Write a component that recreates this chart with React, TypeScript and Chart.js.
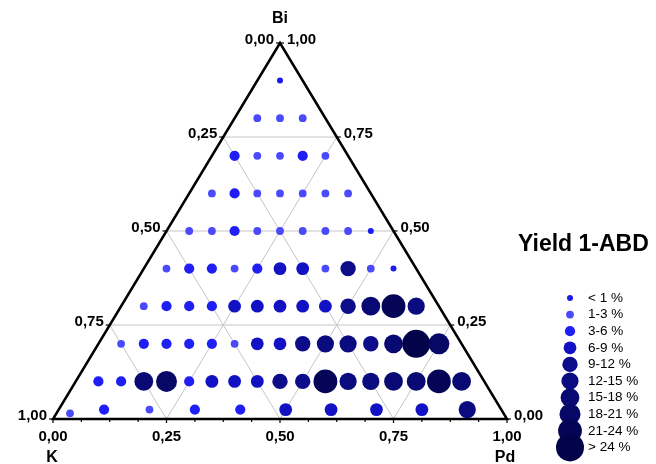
import React, { useEffect, useRef } from "react";
import { Chart, registerables } from "chart.js";

Chart.register(...registerables);

// Yield classes (legend)
const CLASS_LABELS = ["< 1 %", "1-3 %", "3-6 %", "6-9 %", "9-12 %", "12-15 %", "15-18 %", "18-21 %", "21-24 %", "> 24 %"];
const CLASS_COLORS = ["#1c1cf2", "#4a4afa", "#1e1ef5", "#1212c4", "#0d0d8c", "#0b0b80", "#090974", "#070766", "#050558", "#03034a"];
const CLASS_RADII = [3, 3.9, 5.1, 6.4, 7.7, 8.6, 9.4, 10.5, 11.9, 14];

// Composition grid rows (Bi fraction) and Pd steps within each row
const BI_LEVELS = [0.9, 0.8, 0.7, 0.6, 0.5, 0.4, 0.3, 0.2, 0.1];
const PD_STEPS = [0.05, 0.1, 0.15, 0.2, 0.25, 0.3, 0.35, 0.4, 0.45, 0.5, 0.55, 0.6, 0.65, 0.7, 0.75, 0.8, 0.85];
const ROW_CLASSES = [
  [0],
  [1, 1, 1],
  [2, 1, 1, 2, 1],
  [1, 2, 1, 1, 1, 1, 1],
  [1, 1, 2, 1, 1, 1, 1, 1, 0],
  [1, 2, 2, 1, 2, 3, 3, 1, 4, 1, 0],
  [1, 2, 2, 2, 3, 3, 3, 3, 3, 4, 6, 8, 5],
  [1, 2, 2, 2, 2, 1, 3, 3, 4, 5, 5, 4, 6, 9, 7],
  [2, 2, 6, 7, 2, 3, 3, 3, 4, 4, 8, 5, 5, 6, 6, 8, 6],
];

// Points close to the Bi = 0 edge
const EDGE_PD = [0.03, 0.1, 0.2, 0.3, 0.4, 0.5, 0.6, 0.7, 0.8, 0.9];
const EDGE_BI = [0.015, 0.025, 0.025, 0.025, 0.025, 0.025, 0.025, 0.025, 0.025, 0.025];
const EDGE_CLASSES = [1, 2, 1, 2, 2, 3, 3, 3, 3, 5];

// Axis ticks
const TICK_VALUES = [0, 0.25, 0.5, 0.75, 1];
const TICK_TEXT = ["0,00", "0,25", "0,50", "0,75", "1,00"];
const GRID_VALUES = [0.25, 0.5, 0.75];

const TITLE = "Yield 1-ABD";

// layout (pixel frame of the triangle inside the 656x464 canvas)
const W = 656;
const H = 464;
const TRI_LEFT = 53;
const TRI_WIDTH = 454;
const TRI_BASE = 419;
const TRI_HEIGHT = 376;

const FONT = "'Liberation Sans', Arial, Helvetica, sans-serif";

export default function App() {
  const ref = useRef<HTMLCanvasElement | null>(null);

  useEffect(() => {
    const canvas = ref.current;
    if (!canvas) return;

    const points: any[] = [];
    const radii: number[] = [];
    const colors: string[] = [];
    BI_LEVELS.forEach((bi, r) => {
      ROW_CLASSES[r].forEach((cls, j) => {
        const pd = PD_STEPS[j];
        points.push({ x: pd + bi / 2, y: bi });
        radii.push(CLASS_RADII[cls]);
        colors.push(CLASS_COLORS[cls]);
      });
    });
    EDGE_PD.forEach((pd, j) => {
      const bi = EDGE_BI[j];
      const cls = EDGE_CLASSES[j];
      points.push({ x: pd + bi / 2, y: bi });
      radii.push(CLASS_RADII[cls]);
      colors.push(CLASS_COLORS[cls]);
    });

    const ternaryPlugin = {
      id: "ternary",
      beforeDatasetsDraw(chart: any) {
        const { ctx } = chart;
        const xs = chart.scales.x;
        const ys = chart.scales.y;
        const P = (pd: number, bi: number) => [xs.getPixelForValue(pd + bi / 2), ys.getPixelForValue(bi)];
        ctx.save();
        // grid
        ctx.strokeStyle = "#c4c4c4";
        ctx.lineWidth = 1;
        const seg = (a: number[], b: number[]) => {
          ctx.beginPath();
          ctx.moveTo(a[0], a[1]);
          ctx.lineTo(b[0], b[1]);
          ctx.stroke();
        };
        GRID_VALUES.forEach((v) => {
          seg(P(0, v), P(1 - v, v));
          seg(P(v, 0), P(v, 1 - v));
          seg(P(1 - v, 0), P(0, 1 - v));
        });
        // ticks on bottom
        ctx.strokeStyle = "#000";
        ctx.lineWidth = 1.2;
        for (let i = 0; i <= 16; i++) {
          const p = P(i / 16, 0);
          seg([p[0], p[1]], [p[0], p[1] + (i % 4 === 0 ? 4 : 3)]);
        }
        TICK_VALUES.forEach((v) => {
          const l = P(0, v);
          seg([l[0], l[1]], [l[0] - 4, l[1]]);
          const r = P(1 - v, v);
          seg([r[0], r[1]], [r[0] + 4, r[1]]);
        });
        // triangle
        ctx.lineWidth = 2.5;
        ctx.lineJoin = "miter";
        ctx.beginPath();
        const a = P(0, 0), b = P(1, 0), c = P(0, 1);
        ctx.moveTo(a[0], a[1]);
        ctx.lineTo(b[0], b[1]);
        ctx.lineTo(c[0], c[1]);
        ctx.closePath();
        ctx.stroke();
        ctx.restore();
      },
      afterDraw(chart: any) {
        const { ctx } = chart;
        const xs = chart.scales.x;
        const ys = chart.scales.y;
        const P = (pd: number, bi: number) => [xs.getPixelForValue(pd + bi / 2), ys.getPixelForValue(bi)];
        ctx.save();
        ctx.fillStyle = "#000";
        ctx.textBaseline = "middle";
        ctx.font = `bold 15px ${FONT}`;
        TICK_VALUES.forEach((v, i) => {
          // left edge: K fraction
          const l = P(0, 1 - v);
          ctx.textAlign = "right";
          ctx.fillText(TICK_TEXT[i], l[0] - 6, l[1] - 3);
          // right edge: Bi fraction
          const r = P(1 - v, v);
          ctx.textAlign = "left";
          ctx.fillText(TICK_TEXT[i], r[0] + 7, r[1] - 3);
          // bottom: Pd fraction
          const bt = P(v, 0);
          ctx.textAlign = "center";
          ctx.fillText(TICK_TEXT[i], bt[0], bt[1] + 18);
        });
        ctx.font = `bold 16px ${FONT}`;
        ctx.textAlign = "center";
        const apex = P(0, 1);
        ctx.fillText("Bi", apex[0], apex[1] - 24);
        const k = P(0, 0);
        ctx.fillText("K", k[0] - 1, k[1] + 39);
        const pdv = P(1, 0);
        ctx.fillText("Pd", pdv[0] - 2, pdv[1] + 39);

        // title
        ctx.font = `bold 23px ${FONT}`;
        ctx.textAlign = "left";
        ctx.fillText(TITLE, 518, 245);

        // legend
        ctx.font = `13.5px ${FONT}`;
        CLASS_LABELS.forEach((lab, i) => {
          const y = 298 + i * 16.6;
          ctx.fillStyle = CLASS_COLORS[i];
          ctx.beginPath();
          ctx.arc(570, y, CLASS_RADII[i], 0, Math.PI * 2);
          ctx.fill();
        });
        ctx.fillStyle = "#000";
        CLASS_LABELS.forEach((lab, i) => {
          const y = 298 + i * 16.6;
          ctx.fillText(lab, 588, y);
        });
        ctx.restore();
      },
    };

    const chart = new Chart(canvas, {
      type: "scatter",
      data: {
        datasets: [
          {
            data: points,
            pointRadius: radii,
            pointHoverRadius: radii,
            pointBackgroundColor: colors,
            pointBorderWidth: 0,
            pointBorderColor: colors,
            clip: false,
          },
        ],
      },
      options: {
        animation: false,
        responsive: false,
        devicePixelRatio: 1,
        layout: { padding: 0, autoPadding: false },
        plugins: { legend: { display: false }, tooltip: { enabled: false } },
        events: [],
        scales: {
          x: {
            type: "linear",
            display: false,
            min: -TRI_LEFT / TRI_WIDTH,
            max: (W - TRI_LEFT) / TRI_WIDTH,
          },
          y: {
            type: "linear",
            display: false,
            min: -(H - TRI_BASE) / TRI_HEIGHT,
            max: TRI_BASE / TRI_HEIGHT,
          },
        },
      },
      plugins: [ternaryPlugin],
    });
    return () => chart.destroy();
  }, []);

  return (
    <div style={{ position: "fixed", left: 0, top: 0, width: W, height: H, background: "#fff" }}>
      <canvas ref={ref} width={W} height={H} style={{ display: "block", width: W, height: H }} />
    </div>
  );
}
